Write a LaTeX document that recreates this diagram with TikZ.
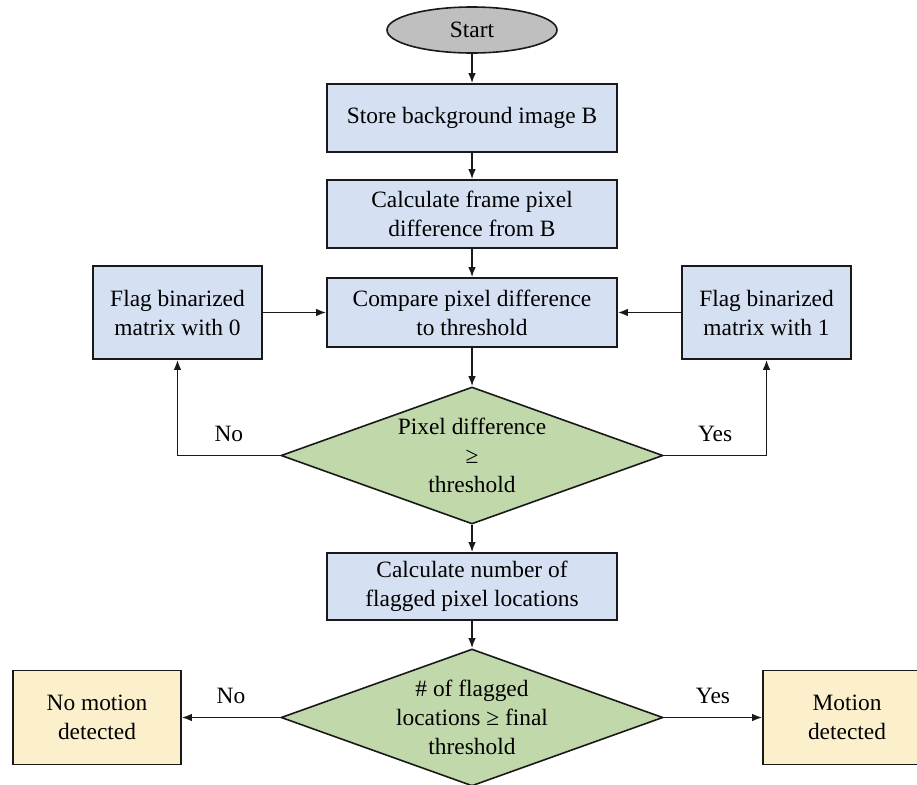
\documentclass[tikz,border=0pt]{standalone}
\usepackage{fontspec}
\setmainfont{Liberation Serif}
\usepackage{tikz}
\usetikzlibrary{arrows.meta,positioning,shapes.geometric}

\definecolor{startgray}{RGB}{191,191,191}
\definecolor{boxblue}{RGB}{213,225,242}
\definecolor{decgreen}{RGB}{192,216,170}
\definecolor{endyellow}{RGB}{252,240,204}

\begin{document}
\begin{tikzpicture}[x=1pt, y=1pt, >={Latex[length=10pt,width=7.5pt]},
    every node/.style={font=\rmfamily\fontsize{23.4}{29}\selectfont, align=center},
    startnode/.style={ellipse, draw=black!90, line width=1.6pt, fill=startgray, minimum width=170pt, minimum height=46pt, inner sep=0pt},
    procbox/.style={draw=black!90, line width=1.6pt, fill=boxblue, minimum width=290pt, minimum height=68pt, inner sep=3pt},
    flagbox/.style={procbox, minimum width=169pt, minimum height=93pt},
    endbox/.style={draw=black!90, line width=1.6pt, fill=endyellow, minimum width=168pt, minimum height=94pt, inner sep=3pt},
    decision/.style={diamond, draw=black!90, line width=1.6pt, fill=decgreen, aspect=2.8, minimum width=382pt, minimum height=137pt, inner sep=0pt},
    flow/.style={->, line width=1.5pt, draw=black!90}]
    \useasboundingbox (0,0) rectangle (917,-784);

    \node[startnode] (start) at (472,-30) {Start};
    \node[procbox, below=29.4pt of start] (store) {Store background image B};
    \node[procbox, below=26.4pt of store] (calc) {Calculate frame pixel\\ difference from B};
    \node[procbox, below=28.4pt of calc, minimum height=69pt] (compare) {Compare pixel difference\\ to threshold};
    \node[decision, below=38.4pt of compare, label={center:{Pixel difference\\ ≥\\ threshold}}] (diff) {};
    \node[procbox, below=27.4pt of diff, minimum height=67pt] (count) {Calculate number of\\ flagged pixel locations};
    \node[decision, below=27.4pt of count, label={center:{\# of flagged\\ locations ≥ final\\ threshold}}] (final) {};
    \node[flagbox, left=63.4pt of compare] (flagzero) {Flag binarized\\ matrix with 0};
    \node[flagbox, right=63.4pt of compare] (flagone) {Flag binarized\\ matrix with 1};
    \node[endbox, left=98.4pt of final] (nomotion) {No motion\\ detected};
    \node[endbox, right=98.4pt of final] (motion) {Motion\\ detected};

    \draw[flow] (start) -- (store);
    \draw[flow] (store) -- (calc);
    \draw[flow] (calc) -- (compare);
    \draw[flow] (compare) -- (diff);
    \draw[flow] (diff) -- (count);
    \draw[flow] (count) -- (final);
    \draw[flow] (flagzero) -- (compare);
    \draw[flow] (flagone) -- (compare);
    \draw[flow] (diff.west) -| node[pos=0.25, above=10pt] {No} (flagzero.south);
    \draw[flow] (diff.east) -| node[pos=0.25, above=10pt] {Yes} (flagone.south);
    \draw[flow] (final.west) -- node[above=10pt] {No} (nomotion);
    \draw[flow] (final.east) -- node[above=10pt] {Yes} (motion);
\end{tikzpicture}
\end{document}
